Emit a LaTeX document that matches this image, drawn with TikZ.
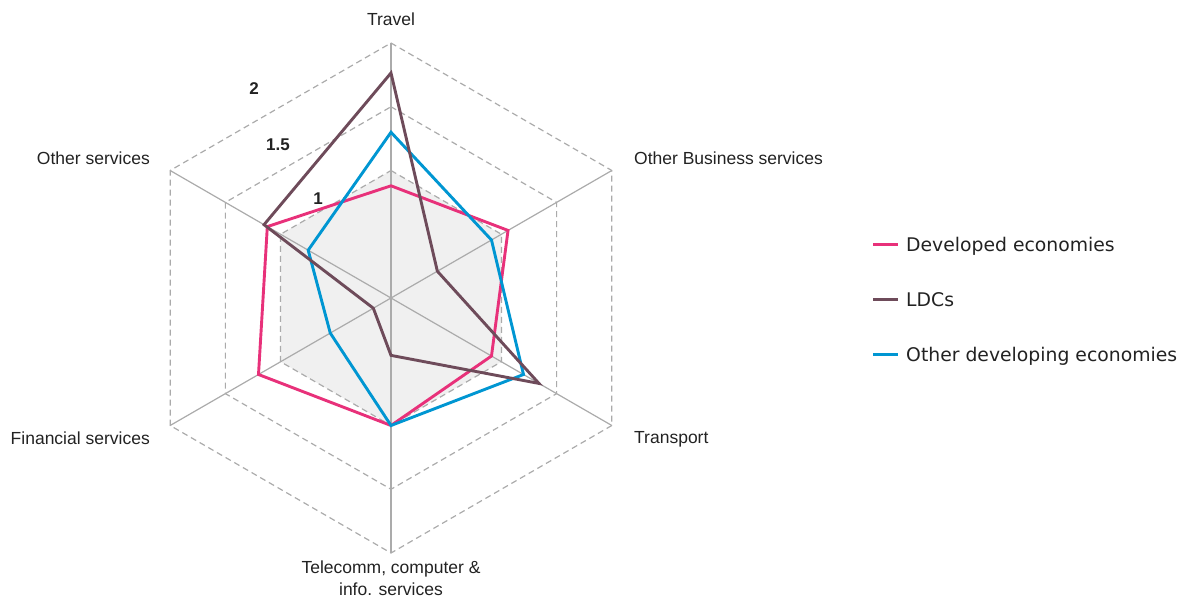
\documentclass[tikz,border=0pt]{standalone}
\usepackage{fontspec}
\setmainfont{Liberation Sans}
\newfontfamily\legendfont{DejaVu Sans}
\definecolor{devpink}{HTML}{E8317A}
\definecolor{ldcbrown}{HTML}{6E4B5A}
\definecolor{othblue}{HTML}{0096D2}
\definecolor{gridgray}{HTML}{ABABAB}
\definecolor{txtgray}{HTML}{222222}
\def\u{127.5}

\begin{document}
\begin{tikzpicture}[x=1pt,y=1pt,
    ring/.style={gridgray,line width=1.2pt,dash pattern=on 6pt off 4pt},
    spoke/.style={gridgray,line width=1.2pt},
    series/.style={line width=2.9pt,line join=miter},
    axislabel/.style={font=\fontsize{17.5}{22}\selectfont,text=txtgray,inner sep=0pt},
    ticklabel/.style={font=\fontsize{17}{20}\selectfont\bfseries,text=txtgray,inner sep=0pt},
    legendtext/.style={font=\legendfont\fontsize{18.8}{22}\selectfont,text=txtgray,anchor=base west,inner sep=0pt}]
    \useasboundingbox (-391,-300) rectangle (806,298);

    % Shaded inner hexagon (value 1)
    \fill[black!6] (90:\u) \foreach \a in {30,-30,-90,210,150} { -- (\a:\u) } -- cycle;

    % Spokes
    \foreach \a in {90,30,-30,-90,210,150} {
        \draw[spoke] (0,0) -- (\a:2*\u);
    }

    % Dashed rings at 1, 1.5 and 2
    \foreach \r in {1,1.5,2} {
        \draw[ring] (90:\r*\u) \foreach \a in {30,-30,-90,210,150} { -- (\a:\r*\u) } -- cycle;
    }

    % Developed economies
    \draw[series,devpink] (90:{0.88*\u}) -- (30:{1.06*\u}) -- (-30:{0.91*\u})
        -- (-90:{1.0*\u}) -- (210:{1.20*\u}) -- (150:{1.12*\u}) -- cycle;

    % Other developing economies
    \draw[series,othblue] (90:{1.30*\u}) -- (30:{0.91*\u}) -- (-30:{1.20*\u})
        -- (-90:{1.0*\u}) -- (210:{0.55*\u}) -- (150:{0.75*\u}) -- cycle;

    % LDCs
    \draw[series,ldcbrown] (90:{1.765*\u}) -- (30:{0.42*\u}) -- (-30:{1.34*\u})
        -- (-90:{0.45*\u}) -- (210:{0.16*\u}) -- (150:{1.15*\u}) -- cycle;

    % Scale values
    \node[ticklabel] (t2) at (-137,209) {2};
    \node[ticklabel] (t15) at (-113,153) {1.5};
    \node[ticklabel] (t1) at (-73,99) {1};

    % Axis labels
    \node[axislabel] (travel) at (0,279) {Travel};
    \node[axislabel,anchor=west] (obs) at (243,140) {Other Business services};
    \node[axislabel,anchor=west] (transport) at (243,-141) {Transport};
    \node[axislabel,align=center] (telecomm) at (0,-280) {Telecomm, computer \&\\info. services};
    \node[axislabel,anchor=east] (financial) at (-241,-140) {Financial services};
    \node[axislabel,anchor=east] (otherserv) at (-241,140) {Other services};

    % Legend
    \coordinate (kdev) at (482,54);
    \coordinate (kldc) at (482,-1);
    \coordinate (koth) at (482,-56);
    \node[legendtext] (legdev) at ([xshift=33pt,yshift=-7pt]kdev) {Developed economies};
    \node[legendtext] (legldc) at ([xshift=33pt,yshift=-7pt]kldc) {LDCs};
    \node[legendtext] (legoth) at ([xshift=33pt,yshift=-7pt]koth) {Other developing economies};
    \draw[devpink,line width=3pt] (kdev) -- ++(25,0);
    \draw[ldcbrown,line width=3pt] (kldc) -- ++(25,0);
    \draw[othblue,line width=3pt] (koth) -- ++(25,0);

\end{tikzpicture}
\end{document}
